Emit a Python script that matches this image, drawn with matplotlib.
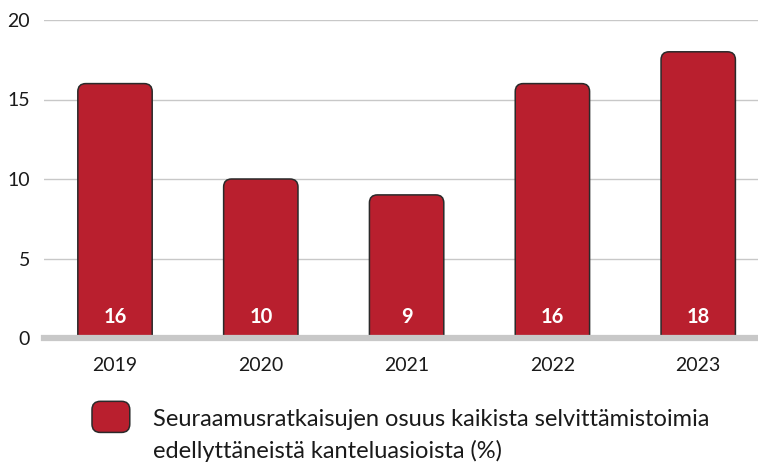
import matplotlib
matplotlib.use('Agg')
from matplotlib import pyplot as plt
from matplotlib.patches import FancyBboxPatch
from matplotlib.legend_handler import HandlerPatch

years = ['2019', '2020', '2021', '2022', '2023']
values = [16, 10, 9, 16, 18]
yticks = [0, 5, 10, 15, 20]
label = 'Seuraamusratkaisujen osuus kaikista selvittämistoimia\nedellyttäneistä kanteluasioista (%)'

RED = '#b91f2e'
EDGE = '#2a2a2a'
GRID = '#c8c8c8'

plt.rcParams['font.family'] = ['Lato', 'DejaVu Sans']

W, H = 758, 466
fig = plt.figure(figsize=(W / 100, H / 100), dpi=100)
ax = fig.add_axes([44 / W, 1 - 338 / H, (W - 44) / W, (338 - 20) / H])
ax.set_xlim(-0.487, 4.41)
ax.set_ylim(0, 20)

bars = ax.bar(range(len(years)), values, width=0.51, color=RED)

# bars with rounded top corners: redraw each one as a rounded box that
# starts below the axis so the lower corners get clipped away
px_x = ax.bbox.width / (4.41 + 0.487)
px_y = ax.bbox.height / 20
r = 8 / px_x
for b in bars:
    b.set_visible(False)
    p = FancyBboxPatch((b.get_x(), -2), b.get_width(), b.get_height() + 2,
                       boxstyle=f'round,pad=0,rounding_size={r}',
                       mutation_aspect=px_x / px_y,
                       facecolor=RED, edgecolor=EDGE, linewidth=1.1, zorder=2)
    ax.add_patch(p)

for i, v in enumerate(values):
    ax.text(i, 1.3, str(v), ha='center', va='center', color='white',
            fontsize=14.5, fontweight='bold', zorder=4)

ax.axhline(0, color=GRID, lw=4.5, clip_on=False, zorder=3)
ax.set_yticks(yticks)
ax.set_xticks(range(len(years)), years)
ax.yaxis.grid(True, color=GRID, lw=1)
ax.set_axisbelow(True)
for s in ax.spines.values():
    s.set_visible(False)
ax.tick_params(axis='both', length=0, labelsize=14, colors='#1a1a1a')
ax.tick_params(axis='y', pad=10)
ax.tick_params(axis='x', pad=14)


def rounded_handle(legend, orig_handle, xdescent, ydescent, width, height, fontsize):
    # handle sits level with the first text line, not the middle of both
    return FancyBboxPatch((-xdescent, -ydescent + 14), width, height,
                          boxstyle='round,pad=0,rounding_size=6')


h = FancyBboxPatch((0, 0), 1, 1, facecolor=RED, edgecolor=EDGE, linewidth=1.1)
leg = fig.legend([h], [label], loc='upper left', bbox_to_anchor=(92 / W, 1 - 409 / H),
                 frameon=False, borderpad=0, borderaxespad=0, fontsize=17,
                 handlelength=1.6, handleheight=1.65, handletextpad=1.0,
                 labelcolor='#1a1a1a',
                 handler_map={FancyBboxPatch: HandlerPatch(patch_func=rounded_handle)})
leg.get_texts()[0].set_linespacing(1.55)

fig.savefig('out.png', dpi=100)
